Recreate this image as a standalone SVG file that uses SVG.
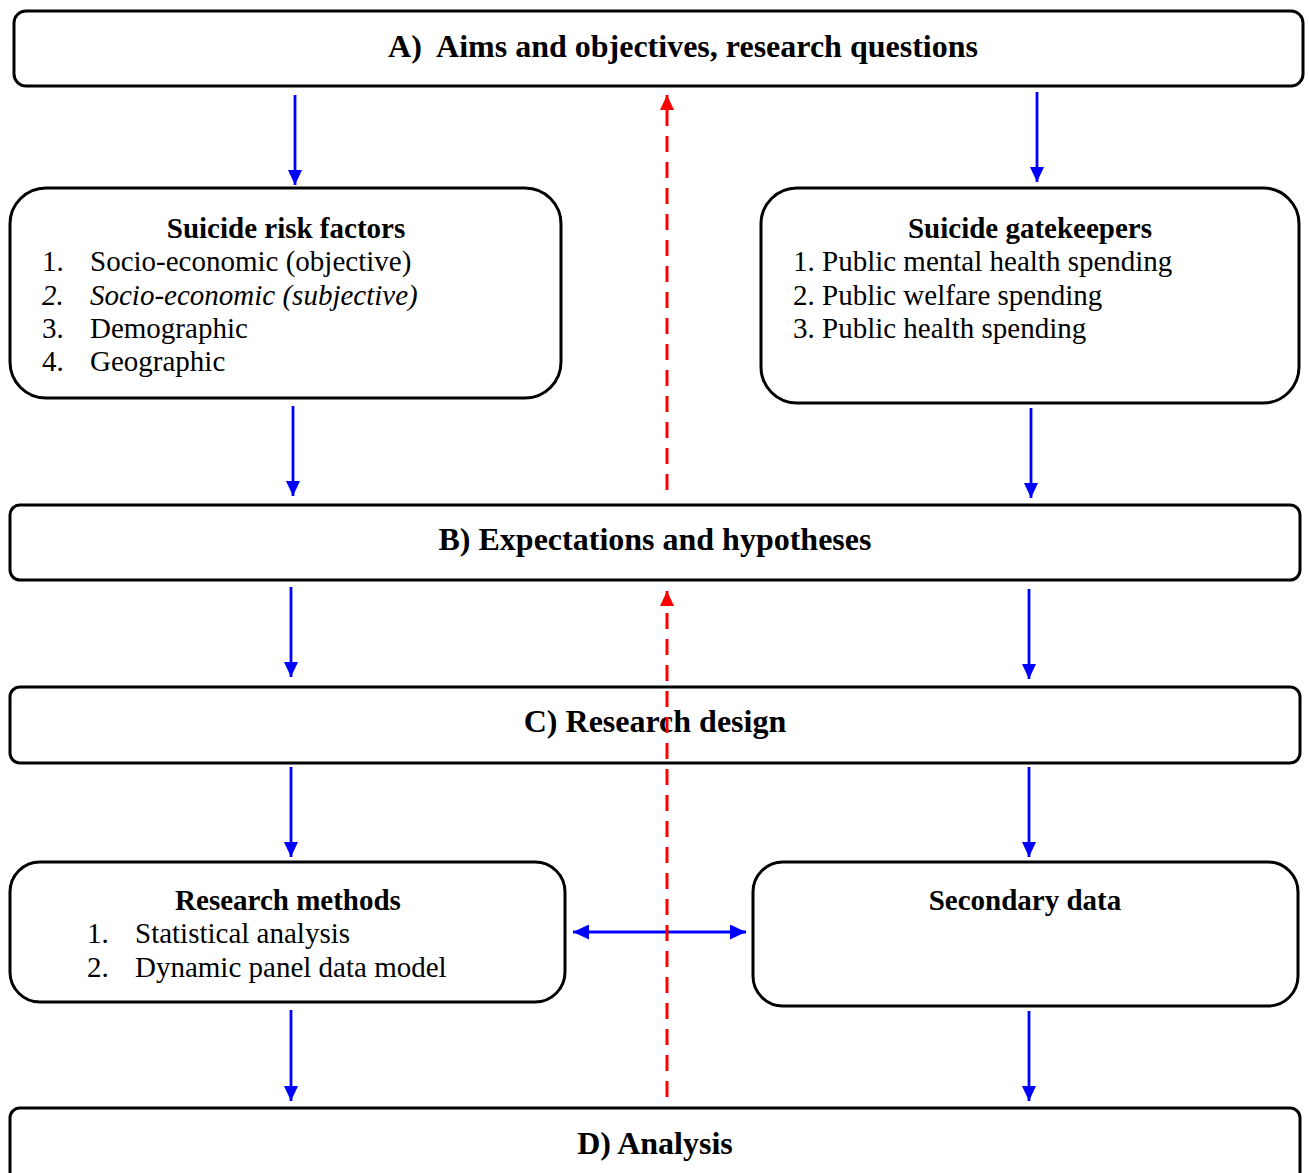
<svg xmlns="http://www.w3.org/2000/svg" width="1309" height="1173" viewBox="0 0 1309 1173">
<defs>
<marker id="abd" viewBox="0 0 16 15" refX="16" refY="7.5" markerWidth="16" markerHeight="15" markerUnits="userSpaceOnUse" orient="auto-start-reverse">
<path d="M0,0 L16,7.5 L0,15 Z" fill="#0000ff"/>
</marker>
<marker id="ar" viewBox="0 0 15 14" refX="15" refY="7" markerWidth="15" markerHeight="14" markerUnits="userSpaceOnUse" orient="auto">
<path d="M0,0 L15,7 L0,14 Z" fill="#ff0000"/>
</marker>
<marker id="av" viewBox="0 0 15 14" refX="15" refY="7" markerWidth="15" markerHeight="14" markerUnits="userSpaceOnUse" orient="auto">
<path d="M0,0 L15,7 L0,14 Z" fill="#0000ff"/>
</marker>
</defs>
<style>
.box{fill:#fff;stroke:#000;stroke-width:3}
.t{font-family:"Liberation Serif","Times New Roman",serif;fill:#000}
.h{font-size:32px;font-weight:bold;text-anchor:middle}
.s{font-size:29px;font-weight:bold;text-anchor:middle}
.i{font-size:29px}
.blue{stroke:#0000ff;stroke-width:2.8;fill:none}
.red{stroke:#ff0000;stroke-width:3;fill:none;stroke-dasharray:16 10}
</style>
<rect width="1309" height="1173" fill="#fff"/>
<g id="nodeA">
<rect class="box" x="14" y="11" width="1289" height="75" rx="12"/>
<text class="t h" x="683" y="57" xml:space="preserve">A)  Aims and objectives, research questions</text>
</g>
<g id="nodeRisk">
<rect class="box" x="10" y="188" width="551" height="210" rx="36"/>
<text class="t s" x="286" y="238">Suicide risk factors</text>
<text class="t i" x="42" y="271">1.</text><text class="t i" x="90" y="271">Socio-economic (objective)</text>
<text class="t i" x="42" y="305" font-style="italic">2.</text><text class="t i" x="90" y="305" font-style="italic">Socio-economic (subjective)</text>
<text class="t i" x="42" y="338">3.</text><text class="t i" x="90" y="338">Demographic</text>
<text class="t i" x="42" y="371">4.</text><text class="t i" x="90" y="371">Geographic</text>
</g>
<g id="nodeGate">
<rect class="box" x="761" y="188" width="538" height="215" rx="36"/>
<text class="t s" x="1030" y="238">Suicide gatekeepers</text>
<text class="t i" x="793" y="271">1. Public mental health spending</text>
<text class="t i" x="793" y="305">2. Public welfare spending</text>
<text class="t i" x="793" y="338">3. Public health spending</text>
</g>
<g id="nodeB">
<rect class="box" x="10" y="505" width="1290" height="75" rx="10"/>
<text class="t h" x="655" y="550">B) Expectations and hypotheses</text>
</g>
<g id="nodeC">
<rect class="box" x="10" y="687" width="1290" height="76" rx="10"/>
<text class="t h" x="655" y="732">C) Research design</text>
</g>
<g id="nodeMethods">
<rect class="box" x="10" y="862" width="555" height="140" rx="30"/>
<text class="t s" x="288" y="910">Research methods</text>
<text class="t i" x="87" y="943">1.</text><text class="t i" x="135" y="943">Statistical analysis</text>
<text class="t i" x="87" y="977">2.</text><text class="t i" x="135" y="977">Dynamic panel data model</text>
</g>
<g id="nodeData">
<rect class="box" x="753" y="862" width="545" height="144" rx="30"/>
<text class="t s" x="1025" y="910">Secondary data</text>
</g>
<g id="nodeD">
<rect class="box" x="10" y="1108" width="1290" height="80" rx="10"/>
<text class="t h" x="655" y="1154">D) Analysis</text>
</g>
<g id="connectors">
<line class="blue" x1="295" y1="95" x2="295" y2="185" marker-end="url(#av)"/>
<line class="blue" x1="1037" y1="92" x2="1037" y2="182" marker-end="url(#av)"/>
<line class="blue" x1="293" y1="406" x2="293" y2="496" marker-end="url(#av)"/>
<line class="blue" x1="1031" y1="408" x2="1031" y2="498" marker-end="url(#av)"/>
<line class="blue" x1="291" y1="587" x2="291" y2="677" marker-end="url(#av)"/>
<line class="blue" x1="1029" y1="589" x2="1029" y2="679" marker-end="url(#av)"/>
<line class="blue" x1="291" y1="767" x2="291" y2="857" marker-end="url(#av)"/>
<line class="blue" x1="1029" y1="767" x2="1029" y2="857" marker-end="url(#av)"/>
<line class="blue" x1="291" y1="1010" x2="291" y2="1101" marker-end="url(#av)"/>
<line class="blue" x1="1029" y1="1011" x2="1029" y2="1101" marker-end="url(#av)"/>
<line class="blue" x1="573" y1="932" x2="746" y2="932" marker-start="url(#abd)" marker-end="url(#abd)"/>
<line class="red" x1="667" y1="490" x2="667" y2="95" marker-end="url(#ar)"/>
<line class="red" x1="667" y1="1097" x2="667" y2="591" marker-end="url(#ar)"/>
</g>
</svg>
